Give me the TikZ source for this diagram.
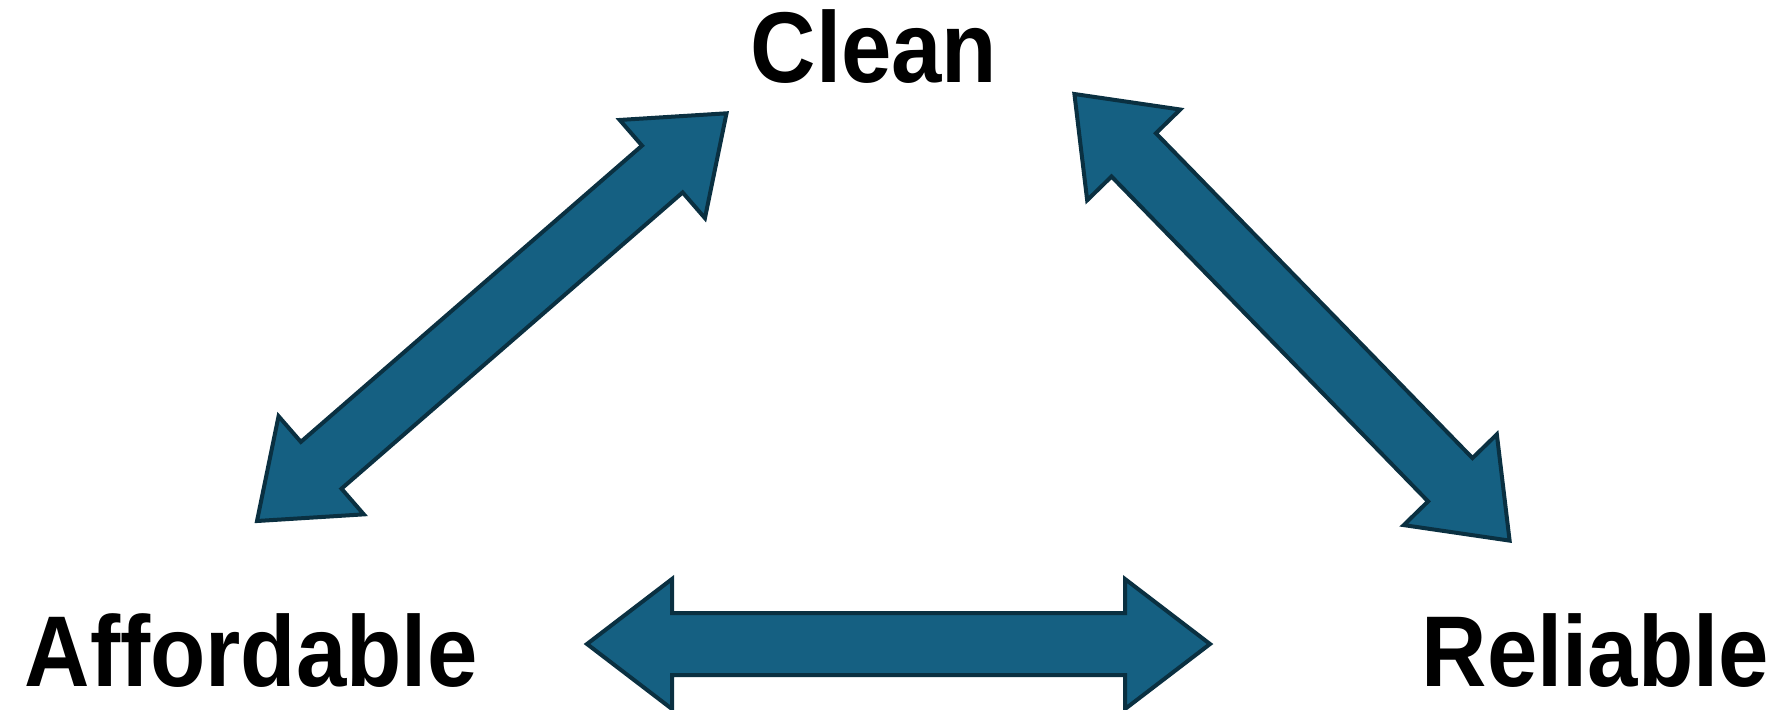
\documentclass[tikz,border=0pt]{standalone}
\usepackage{fontspec}
\setmainfont{Liberation Sans}[FakeStretch=0.9]
\usepackage{xcolor}
\usepackage{tikz}
\usetikzlibrary{calc}
\definecolor{tribluefill}{HTML}{156082}
\definecolor{triblueline}{HTML}{0A3041}

\tikzset{
  goal/.style={anchor=base,inner sep=0pt,font=\fontsize{50.3}{60}\selectfont\bfseries},
  blockarrow/.style={draw=triblueline,fill=tribluefill,line width=2pt,line join=miter}
}
% head length, head half width, shaft half width (pt)
\newcommand{\ahead}{42.5pt}
\newcommand{\awide}{32.5pt}
\newcommand{\ashaft}{15.5pt}
\newcommand{\twowayarrow}[2]{%
  \draw[blockarrow] (#1)
    -- ($(#1)!\ahead!(#2)!\awide!90:(#2)$)
    -- ($(#1)!\ahead!(#2)!\ashaft!90:(#2)$)
    -- ($(#2)!\ahead!(#1)!\ashaft!-90:(#1)$)
    -- ($(#2)!\ahead!(#1)!\awide!-90:(#1)$)
    -- (#2)
    -- ($(#2)!\ahead!(#1)!\awide!90:(#1)$)
    -- ($(#2)!\ahead!(#1)!\ashaft!90:(#1)$)
    -- ($(#1)!\ahead!(#2)!\ashaft!-90:(#2)$)
    -- ($(#1)!\ahead!(#2)!\awide!-90:(#2)$)
    -- cycle;}

\begin{document}
\begin{tikzpicture}[x=0.5pt,y=-0.5pt]
\useasboundingbox (0,0) rectangle (1777,709);

\node[goal] (clean) at (874,82) {Clean};
\node[goal] (affordable) at (251,686) {Affordable};
\node[goal] (reliable) at (1595.5,686) {Reliable};

% arrow tips
\coordinate (ca) at (726.5,113.3);
\coordinate (ac) at (257,521);
\coordinate (cr) at (1074.4,94);
\coordinate (rc) at (1509.6,540.6);
\coordinate (ar) at (587,644);
\coordinate (ra) at (1210,644);

\twowayarrow{ac}{ca}
\twowayarrow{cr}{rc}
\twowayarrow{ar}{ra}
\end{tikzpicture}
\end{document}
